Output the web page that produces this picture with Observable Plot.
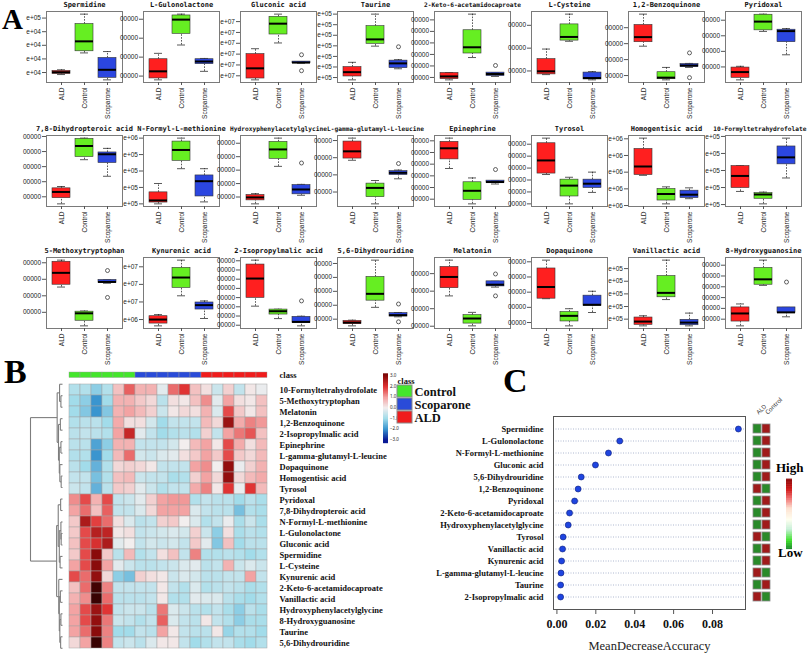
<!DOCTYPE html>
<html><head><meta charset="utf-8">
<script src="https://cdn.jsdelivr.net/npm/d3@7"></script>
<script src="https://cdn.jsdelivr.net/npm/@observablehq/plot@0.6"></script>
<style>
body{margin:0;background:#fff}
#fig{position:relative;width:808px;height:657px;overflow:hidden;background:#fff}
#fig svg{position:absolute;overflow:visible;max-width:none}
.lab{position:absolute;font-family:"Liberation Serif","Times New Roman",serif;font-weight:bold;line-height:1;white-space:nowrap}
</style></head>
<body><div id="fig"></div>
<script>
// ---------------- DATA ----------------
const groups = ["ALD","Control","Scoparone"];
const groupColors = ["#ff1f1f","#66ee22","#2b46e0"];
const metabolites = ["Spermidine","L-Gulonolactone","Gluconic acid","Taurine","2-Keto-6-acetamidocaproate","L-Cysteine","1,2-Benzoquinone","Pyridoxal",
 "7,8-Dihydropteroic acid","N-Formyl-L-methionine","Hydroxyphenylacetylglycine","L-gamma-glutamyl-L-leucine","Epinephrine","Tyrosol","Homogentisic acid","10-Formyltetrahydrofolate",
 "5-Methoxytryptophan","Kynurenic acid","2-Isopropylmalic acid","5,6-Dihydrouridine","Melatonin","Dopaquinone","Vanillactic acid","8-Hydroxyguanosine"];
// visible (clipped) y tick labels, top to bottom
const tickLabels = [
 ["e+05","e+04","e+04","e+04","e+04"],
 ["00000","00000","00000","00000"],
 ["e+07","e+07","e+07","e+07","e+07","e+07"],
 ["e+05","e+05","e+05","e+05","e+05","e+05","e+05"],
 ["00000","00000","00000","00000","00000","00000"],
 ["00000","00000","00000"],
 ["00000","00000","00000","00000"],
 ["00000","00000","00000","00000"],
 ["00000","00000","00000","00000","00000"],
 ["e+06","e+05","e+05","e+05","e+05"],
 ["00000","00000","00000","00000","00000"],
 ["00000","00000","00000","00000"],
 ["00000","00000","00000","00000","00000","00000"],
 ["00000","00000","00000","00000","00000","00000"],
 ["e+06","e+06","e+06","e+06","e+06"],
 ["e+05","e+05","e+05","e+05","e+05"],
 ["00000","00000","00000","00000"],
 ["e+07","e+07","e+07","e+06"],
 ["00000","00000","00000","00000","00000","00000","00000","00000"],
 ["00000","00000","00000","00000","00000"],
 ["00000","00000","00000","00000"],
 ["00000","00000","00000","00000","00000"],
 ["e+05","e+05","e+05","e+05","e+05"],
 ["00000","00000","00000","00000","00000","00000"]
];
// box statistics in tick units: [lower whisker, Q1, median, Q3, upper whisker]
const boxALD = [
 [0.85,0.90,1.02,1.12,1.20],[0.80,0.875,1.25,1.89,2.20],[0.625,0.75,1.69,3.00,3.50],[0.78,1.10,1.51,1.99,2.44],
 [0.79,0.85,1.09,1.39,1.42],[0.84,0.85,0.985,1.52,1.96],[2.84,3.09,3.41,4.17,4.85],[0.17,0.30,0.67,0.96,1.04],
 [0.53,0.91,1.32,1.56,1.68],[1.00,1.08,1.21,1.70,2.24],[0.49,0.75,0.97,1.15,1.25],[2.85,2.95,3.37,3.94,4.14],
 [3.63,4.41,5.36,5.91,6.23],[3.46,3.54,4.64,6.08,6.51],[2.81,2.83,3.34,4.39,5.04],[1.77,1.97,2.68,3.26,3.28],
 [2.53,2.67,3.39,4.06,4.16],[0.64,0.77,1.00,1.19,1.28],[3.07,3.97,6.07,7.59,8.07],[0.52,0.64,0.76,0.88,0.93],
 [2.73,3.17,3.81,4.38,4.77],[2.57,2.57,3.34,4.56,5.11],[0.47,0.55,0.81,1.13,1.27],[0.38,0.78,1.53,2.09,2.41]];
const boxControl = [
 [2.44,2.56,3.29,4.56,5.29],[2.64,3.23,3.98,4.20,4.27],[4.03,4.81,5.81,6.44,6.69],[3.97,4.19,4.61,5.86,7.00],
 [2.73,3.08,3.62,5.10,6.50],[2.30,2.33,2.49,3.04,3.49],[0.73,0.77,0.87,1.21,1.51],[3.28,3.35,3.91,4.35,4.39],
 [3.46,3.64,4.37,4.84,4.89],[3.14,3.62,4.28,4.79,5.00],[3.28,3.84,4.54,5.10,5.38],[0.31,0.70,1.24,1.49,1.67],
 [0.60,0.94,1.72,2.45,2.82],[1.00,1.62,2.53,3.03,3.23],[1.10,1.30,1.69,1.99,2.12],[1.04,1.34,1.59,1.67,1.73],
 [0.18,0.49,0.94,1.04,1.08],[2.35,2.80,3.39,3.94,4.38],[1.72,2.16,2.52,2.70,2.74],[1.85,2.33,2.82,4.03,5.24],
 [1.02,1.15,1.44,1.63,1.79],[0.78,1.07,1.44,1.69,1.91],[2.55,2.73,3.08,4.41,5.67],[4.13,4.19,4.69,5.75,6.47]];
const boxScoparone = [
 [0.46,0.61,1.20,2.07,2.54],[1.25,1.63,1.77,1.89,1.93],[2.16,2.16,2.22,2.31,2.31],[1.83,1.89,2.34,2.60,2.69],
 [1.09,1.12,1.30,1.42,1.42],[0.61,0.63,0.69,0.93,0.97],[1.51,1.53,1.63,1.72,1.76],[1.78,2.59,3.30,3.39,3.46],
 [2.36,3.24,3.82,3.94,4.21],[1.12,1.45,2.38,2.73,3.14],[1.13,1.20,1.56,1.89,1.94],[1.77,1.99,2.12,2.22,2.28],
 [2.30,2.39,2.47,2.59,2.59],[1.96,2.33,2.69,3.03,3.66],[1.41,1.45,1.65,1.89,2.06],[2.56,3.36,3.77,4.41,4.90],
 [2.76,2.78,2.84,2.96,2.96],[1.06,1.57,1.82,1.97,2.06],[0.93,1.25,1.36,1.91,1.98],[1.17,1.19,1.29,1.44,1.48],
 [3.23,3.27,3.37,3.56,3.56],[1.66,2.10,2.17,2.77,3.06],[0.47,0.52,0.73,0.95,1.48],[1.22,1.56,1.63,2.09,2.09]];
// outliers: [panel index, group, value]
const outliers = [[2,"Scoparone",2.94],[2,"Scoparone",1.47],[3,"Scoparone",3.91],[4,"Scoparone",2.04],[6,"Scoparone",2.42],[6,"Scoparone",0.87],
 [10,"Scoparone",3.53],[11,"Scoparone",2.66],[12,"Scoparone",3.54],[16,"Scoparone",3.53],[16,"Scoparone",1.90],[18,"Scoparone",3.64],
 [19,"Scoparone",2.09],[19,"Scoparone",0.81],[20,"Scoparone",3.98],[20,"Scoparone",2.73],[23,"Scoparone",4.44]];

// heatmap (B)
const heatRows = ["10-Formyltetrahydrofolate","5-Methoxytryptophan","Melatonin","1,2-Benzoquinone","2-Isopropylmalic acid","Epinephrine","L-gamma-glutamyl-L-leucine","Dopaquinone","Homogentisic acid","Tyrosol",
 "Pyridoxal","7,8-Dihydropteroic acid","N-Formyl-L-methionine","L-Gulonolactone","Gluconic acid","Spermidine","L-Cysteine","Kynurenic acid","2-Keto-6-acetamidocaproate","Vanillactic acid","Hydroxyphenylacetylglycine","8-Hydroxyguanosine","Taurine","5,6-Dihydrouridine"];
const heatClass = ["Control","Control","Control","Control","Control","Control","Scoparone","Scoparone","Scoparone","Scoparone","Scoparone","Scoparone","ALD","ALD","ALD","ALD","ALD","ALD"];
const heatValues = [
 [-0.8,-0.8,-1.2,-0.8, 0.6,1.6,0.8,0.8,-0.2,1.5,2.0,0.6, 0.2,-0.5,0.4,-0.6,0.1,-0.1],
 [-1.0,-1.2,-2.0,-1.0, 0.8,0.8,0.5,0.3,-0.7,0.2,0.1,0.6, 1.2,-0.2,1.0,0.2,0.1,0.6],
 [-1.0,-1.3,-2.0,-1.3, 0.8,1.0,0.7,0.4,-0.5,0.1,0.3,0.2, 0.8,-0.3,1.8,0.5,0.1,0.6],
 [-0.8,-0.7,-0.7,-1.0, 0.9,0.2,0.2,-0.4,-1.0,-0.6,-0.6,-0.6, 0.7,0.3,2.8,0.9,1.3,1.1],
 [-0.7,-0.6,-0.7,-0.8, 1.0,2.3,-0.2,-0.6,-1.0,-0.8,-0.7,-0.8, 0.4,-0.6,1.0,1.4,1.7,0.6],
 [-0.7,-0.7,-1.8,-1.2, 0.8,0.8,-0.6,-0.6,-0.6,-0.4,0.0,0.7, 1.0,0.1,1.8,0.9,0.2,0.7],
 [-0.8,-0.8,-2.0,-1.0, 0.7,1.5,-0.4,-0.5,-0.3,-0.2,0.2,0.5, 1.0,0.5,1.8,0.5,0.3,0.7],
 [-0.7,-1.0,-1.6,-0.8, 0.3,0.4,0.3,0.1,-0.6,-0.6,-0.6,1.0, 1.2,0.0,2.9,-0.1,0.4,0.8],
 [-0.6,-0.6,-1.4,-0.8, 0.6,0.7,-0.5,-0.6,-0.6,-0.9,-0.8,0.4, 1.0,0.3,2.9,0.3,0.7,0.9],
 [-0.5,-0.6,-1.6,-0.7, 0.5,0.4,-0.2,-0.5,-0.8,-0.6,-0.6,0.9, 1.3,0.1,2.0,-0.1,2.0,0.7],
 [1.2,1.8,0.8,1.8, -0.6,-0.5,-0.2,0.4,1.0,1.1,1.1,-0.8, -0.6,-0.7,-0.7,-1.0,-0.7,-0.9],
 [1.0,1.5,0.6,1.6, -0.6,-0.6,-0.3,0.3,1.0,1.0,1.0,-0.3, -0.6,-0.7,-0.7,-1.4,-0.8,-0.9],
 [0.5,2.6,1.9,1.5, 0.2,-0.3,-0.7,-0.6,0.4,0.5,0.0,-0.3, -0.8,-0.6,-0.1,-0.9,-0.5,-0.9],
 [0.5,1.8,2.5,2.4, 0.1,0.2,-0.6,-0.5,-0.4,-0.3,-0.4,0.4, -0.5,-1.2,0.2,-0.9,-0.7,-0.8],
 [0.6,1.8,2.1,2.6, -0.2,0.0,-0.6,-0.4,-0.5,-0.4,-0.6,0.5, -0.2,-1.3,0.6,-1.0,-0.7,-0.7],
 [0.5,1.8,3.0,0.5, -0.7,0.7,-0.8,-0.6,0.2,0.6,-0.6,1.3, -0.8,-0.8,-0.7,-0.8,-1.0,-0.8],
 [1.0,1.8,3.0,1.0, -0.2,-0.5,-0.7,-0.7,-0.6,-0.5,-0.3,-0.2, -0.7,-0.6,0.8,-0.5,-0.3,-0.5],
 [1.8,1.5,2.9,0.3, -1.2,-1.4,0.4,0.2,0.1,-0.5,-0.3,-0.4, -0.7,-0.7,-0.6,-0.6,1.0,-0.6],
 [0.6,1.5,3.7,1.3, -0.6,-0.6,-0.6,-0.6,0.1,-0.6,-0.8,-0.3, -0.8,-0.7,-0.6,-0.7,-0.9,-0.8],
 [0.8,1.2,3.8,1.5, -0.7,-0.7,-0.7,-0.6,0.1,-0.8,-0.8,-0.2, -0.3,-0.3,-0.7,-0.9,-1.0,-0.8],
 [1.0,1.8,2.8,2.0, -0.6,-0.5,-0.5,-0.7,1.4,-0.3,-0.5,-0.7, -0.8,-0.6,-0.9,-1.2,-0.7,-0.9],
 [1.0,1.8,2.9,1.4, -0.5,-0.6,-0.8,-0.6,1.6,-0.3,-0.6,-0.7, 0.1,-0.6,-0.8,-1.2,-0.9,-0.9],
 [1.0,1.5,3.0,1.3, -1.0,-1.0,-0.6,-0.7,1.0,0.1,-0.6,-0.7, -0.7,0.1,-1.1,-0.8,-0.8,-1.0],
 [0.3,1.0,3.8,1.3, -0.6,-0.5,-0.7,-0.3,0.1,0.1,-0.6,-1.0, -0.8,-0.6,-0.6,-0.9,-1.0,-0.8]];
const heatStops = [-3,-2,-1,0,1,2,3,4];
const heatColors = ["#0b1b96","#3a95cf","#a2dcea","#f2eeee","#f3a3a3","#e03434","#8a0b0b","#250000"];
const legendTicks = [-3,-2,-1,0,1,2,3];
// row dendrogram: [merge height, left, right], leaves = row index
const rowTree = [6.0,
 [1.0, [0.55, 0, [0.3, 1, 2]], [0.75, [0.4, 3, 4], [0.6, [0.3, 5, 6], [0.5, 7, [0.25, 8, 9]]]]],
 [1.1, [0.8, [0.35, 10, 11], [0.6, [0.3, 12, [0.25, 13, 14]], [0.45, 15, 16]]],
       [0.7, 17, [0.6, [0.4, 18, 19], [0.5, [0.3, 20, 21], [0.35, 22, 23]]]]]];

// random forest (C)
const mdaNames = ["Spermidine","L-Gulonolactone","N-Formyl-L-methionine","Gluconic acid","5,6-Dihydrouridine","1,2-Benzoquinone","Pyridoxal","2-Keto-6-acetamidocaproate","Hydroxyphenylacetylglycine","Tyrosol","Vanillactic acid","Kynurenic acid","L-gamma-glutamyl-L-leucine","Taurine","2-Isopropylmalic acid"];
const mdaValues = [0.0933,0.0323,0.0265,0.0198,0.0125,0.0109,0.0091,0.0065,0.0058,0.0032,0.0029,0.0024,0.0021,0.0019,0.0019];
const mdaTicks = [0,0.02,0.04,0.06,0.08];
const levelALD = ["Low","Low","Low","Low","Low","High","Low","Low","Low","High","Low","Low","High","Low","High"];
const levelControl = ["High","High","High","High","High","Low","High","High","High","Low","High","High","Low","High","Low"];
const gradStops = [0,0.12,0.28,0.42,0.58,0.72,0.85,1];
const gradColors = ["#1e8a2e","#3ee22a","#c8f0d8","#fffff0","#fde0d0","#f07070","#d01818","#8a0a0a"];

// ---------------- DRAW ----------------
const fig = document.getElementById("fig");
function place(el, left, top){ el.style.left = left + "px"; el.style.top = top + "px"; fig.appendChild(el); return el; }
function label(txt, left, top, size, extra){ const d = document.createElement("div"); d.className = "lab"; d.textContent = txt;
  d.style.fontSize = size + "px"; if (extra) Object.assign(d.style, extra); return place(d, left, top); }
const serif = "Liberation Serif, Times New Roman, serif";
const baseStyle = {background:"transparent", overflow:"visible"};

// Panel A: box plots
const colLeft = [46,143,240,337,434,531,628,725];
const rowTop = [11,135,257];
const boxSets = [boxALD, boxControl, boxScoparone];
metabolites.forEach((name, i) => {
  const stats = groups.map((g, gi) => { const s = boxSets[gi][i]; return {g, lo:s[0], q1:s[1], med:s[2], q3:s[3], hi:s[4]}; });
  const outs = outliers.filter(o => o[0] === i).map(o => ({g:o[1], v:o[2]}));
  const all = stats.flatMap(s => [s.lo, s.hi]).concat(outs.map(o => o.v));
  const [mn, mx] = d3.extent(all); const pad = (mx - mn) * 0.04;
  const labs = tickLabels[i]; const n = labs.length;
  const ml = 42, mt = 11, mb = 40, mr = 1, fw = 76, fh = 71;
  const fs = name.length > 24 ? 6.2 : 7;
  const halfW = name.length * fs * 0.602 / 2;
  const cx = colLeft[i % 8] + fw / 2;
  const tdx = Math.min(0, 806 - (cx + halfW));
  const dash = {stroke:"#111", strokeWidth:0.7, strokeDasharray:"1.6,1.3"};
  const svg = Plot.plot({
    width: ml + fw + mr, height: mt + fh + mb, marginLeft: ml, marginRight: mr, marginTop: mt, marginBottom: mb,
    x: {type:"band", domain: groups, paddingInner: 0.2, paddingOuter: 0.22},
    y: {domain: [mn - pad, mx + pad]},
    color: {domain: groups, range: groupColors},
    style: baseStyle,
    marks: [
      Plot.ruleX(stats, {x:"g", y1:"q3", y2:"hi", ...dash}),
      Plot.ruleX(stats, {x:"g", y1:"lo", y2:"q1", ...dash}),
      Plot.tickY(stats, {x:"g", y:"hi", insetLeft:5, insetRight:5, stroke:"#111", strokeWidth:0.7}),
      Plot.tickY(stats, {x:"g", y:"lo", insetLeft:5, insetRight:5, stroke:"#111", strokeWidth:0.7}),
      Plot.barY(stats, {x:"g", y1:"q1", y2:"q3", fill:"g", stroke:"#333", strokeWidth:0.6}),
      Plot.tickY(stats, {x:"g", y:"med", stroke:"#000", strokeWidth:2}),
      Plot.dot(outs, {x:"g", y:"v", r:2, stroke:"#222", strokeWidth:0.7, fill:"none"}),
      Plot.frame({stroke:"#7a7a7a", strokeWidth:1}),
      Plot.axisY({ticks: d3.range(1, n + 1), tickFormat: k => labs[n - k], tickSize:4, tickPadding:1.5, fontSize:6.5, stroke:"#555", fill:"#222", label:null, fontFamily:"Liberation Sans, Arial, sans-serif"}),
      Plot.axisX({tickRotate:-90, tickSize:3, tickPadding:2, fontSize:6.5, stroke:"#555", fill:"#222", label:null, fontFamily:"Liberation Sans, Arial, sans-serif"}),
      Plot.text([name], {frameAnchor:"top", dy:-6.5, dx:tdx, lineAnchor:"middle", fontSize:fs, fontWeight:"bold", fontFamily:"DejaVu Sans Mono, monospace", fill:"#111"})
    ]
  });
  place(svg, colLeft[i % 8] - ml, rowTop[Math.floor(i / 8)] - mt);
});

// Panel B: heatmap
const heatData = heatRows.flatMap((r, ri) => heatValues[ri].map((v, c) => ({r, c, v})));
const hmW = 212, hmH = 275.5, hmMR = 125;
const heat = Plot.plot({
  width: hmW + hmMR, height: hmH, marginLeft:0, marginRight:hmMR, marginTop:0, marginBottom:0,
  x: {type:"band", domain: d3.range(heatClass.length), padding:0, axis:null},
  y: {type:"band", domain: heatRows, padding:0},
  color: {type:"linear", domain: heatStops, range: heatColors, clamp:true},
  style: baseStyle,
  marks: [
    Plot.cell(heatData, {x:"c", y:"r", fill:"v", stroke:"#a3a3a3", strokeWidth:0.5}),
    Plot.axisY({anchor:"right", tickSize:0, tickPadding:5, fontSize:8.5, fontWeight:"bold", fontFamily:serif, fill:"#111", label:null})
  ]
});
place(heat, 62, 378);

const classBar = Plot.plot({
  width: hmW + hmMR, height: 5.5, marginLeft:0, marginRight:hmMR, marginTop:0, marginBottom:0,
  x: {type:"band", domain: d3.range(heatClass.length), padding:0, axis:null},
  color: {domain: ["Control","Scoparone","ALD"], range: ["#44e62c","#2a4bd8","#f01c1c"]},
  style: baseStyle,
  marks: [
    Plot.cell(heatClass.map((g, i) => ({i, g})), {x:"i", fill:"g", stroke:"#9a9a9a", strokeWidth:0.4}),
    Plot.text(["class"], {frameAnchor:"right", dx:5, textAnchor:"start", fontSize:8.5, fontWeight:"bold", fontFamily:serif, fill:"#111"})
  ]
});
place(classBar, 62, 371.5);

// row dendrogram
const segs = [];
function layoutTree(node){
  if (typeof node === "number") return {y: node, h: 0};
  const [h, a, b] = node; const A = layoutTree(a), B = layoutTree(b);
  segs.push({x1:h, y1:A.y, x2:h, y2:B.y}, {x1:h, y1:A.y, x2:A.h, y2:A.y}, {x1:h, y1:B.y, x2:B.h, y2:B.y});
  return {y: (A.y + B.y) / 2, h};
}
layoutTree(rowTree);
const dendro = Plot.plot({
  width: 34, height: hmH, marginLeft:2, marginRight:0, marginTop:0, marginBottom:0,
  x: {domain: [rowTree[0], 0], axis:null},
  y: {domain: [-0.5, heatRows.length - 0.5], reverse:true, axis:null},
  style: baseStyle,
  marks: [Plot.link(segs, {x1:"x1", y1:"y1", x2:"x2", y2:"y2", stroke:"#7d7d7d", strokeWidth:1.1})]
});
place(dendro, 28, 378);

// heatmap colour key
const keyStrips = d3.range(-3.3, 3.2, 0.05);
const key = Plot.plot({
  width: 20, height: 69, marginLeft:3, marginRight:12, marginTop:0, marginBottom:0,
  x: {axis:null},
  y: {domain: [-3.3, 3.2]},
  color: {type:"linear", domain: heatStops, range: heatColors, clamp:true},
  style: baseStyle,
  marks: [
    Plot.ruleY(keyStrips, {y: d => d, stroke: d => d, strokeWidth:1.4}),
    Plot.axisY({anchor:"right", ticks: legendTicks, tickSize:0, tickPadding:1.5, fontSize:4.5, fill:"#222", label:null})
  ]
});
place(key, 380, 373);

// class legend
const classLegend = Plot.plot({
  width: 90, height: 56, marginLeft:2, marginRight:73, marginTop:14, marginBottom:1,
  x: {axis:null},
  y: {type:"band", domain: ["Control","Scoparone","ALD"], padding:0.04},
  color: {domain: ["Control","Scoparone","ALD"], range: ["#44e62c","#2a4bd8","#f01c1c"]},
  style: baseStyle,
  marks: [
    Plot.cell(["Control","Scoparone","ALD"], {y: d => d, fill: d => d, stroke:"#8a8a8a", strokeWidth:1}),
    Plot.axisY({anchor:"right", tickSize:0, tickPadding:2, fontSize:12.5, fontWeight:"bold", fontFamily:serif, fill:"#111", label:null}),
    Plot.text(["class"], {frameAnchor:"top-left", dy:-7, textAnchor:"start", fontSize:8.5, fontWeight:"bold", fontFamily:serif, fill:"#111"})
  ]
});
place(classLegend, 395, 370);

// Panel C: MeanDecreaseAccuracy dot chart
const mdaRows = mdaNames.map((name, i) => ({name, v: mdaValues[i]}));
const [cmin, cmax] = d3.extent(mdaValues); const cpad = (cmax - cmin) * 0.04;
const yBand = {type:"band", domain: mdaNames, paddingInner:0.25, paddingOuter:0.6};
const cPlot = Plot.plot({
  width: 317, height: 277, marginLeft:123, marginRight:2, marginTop:36, marginBottom:48,
  x: {domain: [cmin - cpad, cmax + cpad]},
  y: yBand,
  style: baseStyle,
  marks: [
    Plot.ruleY(mdaNames, {y: d => d, stroke:"#9aa6c4", strokeWidth:0.8, strokeDasharray:"1,1.5"}),
    Plot.dot(mdaRows, {x:"v", y:"name", r:3, fill:"#1f45e0", stroke:"#0b1c7a", strokeWidth:0.6}),
    Plot.frame({stroke:"#555", strokeWidth:1}),
    Plot.axisY({tickSize:0, tickPadding:10, fontSize:8.5, fontWeight:"bold", fontFamily:serif, fill:"#111", label:null}),
    Plot.axisX({ticks: mdaTicks, tickFormat: d3.format(".2f"), tickSize:5, tickPadding:5, fontSize:12, fontWeight:"bold", fontFamily:serif, fill:"#111", stroke:"#555", label:null}),
    Plot.text(["MeanDecreaseAccuracy"], {frameAnchor:"bottom", dy:40, fontSize:12.5, fontFamily:serif, fill:"#222"})
  ]
});
place(cPlot, 430, 380);

const squares = mdaNames.flatMap((name, i) => [{name, col:"ALD", lev: levelALD[i]}, {name, col:"Control", lev: levelControl[i]}]);
const sq = Plot.plot({
  width: 26, height: 277, marginLeft:5, marginRight:3, marginTop:36, marginBottom:48,
  x: {type:"band", domain: ["ALD","Control"], paddingInner:0.08, paddingOuter:0},
  y: {...yBand, axis:null},
  color: {domain: ["Low","High"], range: ["#2a8a2a","#a01b1b"]},
  style: baseStyle,
  marks: [
    Plot.cell(squares, {x:"col", y:"name", fill:"lev", stroke:"#8a8a8a", strokeWidth:0.8}),
    Plot.axisX({anchor:"top", tickRotate:-45, tickSize:0, tickPadding:3, fontSize:6, fill:"#333", label:null})
  ]
});
place(sq, 748, 380);

const gradStrips = d3.range(0, 1, 0.01);
const grad = Plot.plot({
  width: 12, height: 72, marginLeft:3, marginRight:3, marginTop:1, marginBottom:1,
  x: {axis:null}, y: {domain:[0, 1], axis:null},
  color: {type:"linear", domain: gradStops, range: gradColors},
  style: baseStyle,
  marks: [Plot.ruleY(gradStrips, {y: d => d, stroke: d => d, strokeWidth:1.2})]
});
place(grad, 783, 477);
label("High", 776, 461, 13);
label("Low", 778, 546, 13);

// panel letters
label("A", 2, 5, 29);
label("B", 4, 355, 34);
label("C", 503, 364, 34);
</script></body></html>
